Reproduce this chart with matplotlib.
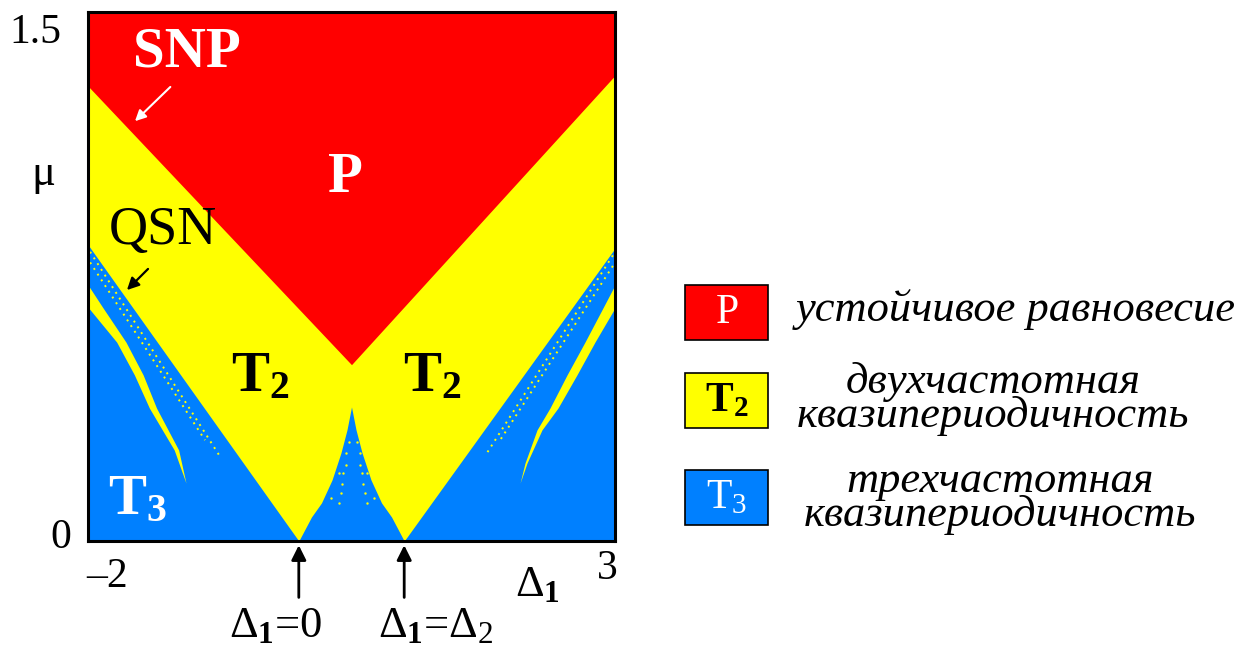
import numpy as np
import matplotlib
matplotlib.use('Agg')
from matplotlib import pyplot as plt
from matplotlib.patches import Rectangle

plt.rcParams['font.family'] = ['Liberation Serif', 'DejaVu Serif']
plt.rcParams['mathtext.fontset'] = 'custom'
plt.rcParams['mathtext.rm'] = 'Liberation Serif'
plt.rcParams['mathtext.it'] = 'Liberation Serif:italic'
plt.rcParams['mathtext.bf'] = 'Liberation Serif:bold'

RED, YELLOW, BLUE = '#FF0000', '#FFFF00', '#0080FF'

delta_lim = [-2, 3]
mu_lim = [0, 1.5]
delta2 = 1.0

# SNP line: P (stable equilibrium) lies above it
snp_delta = [-2.0, 0.5, 3.0]
snp_mu = [1.29, 0.50, 1.32]

# QSN lines + central T3 tongue: lower border of the T2 region
qsn_delta = [-2.0, 0.0, 0.12, 0.215, 0.315, 0.40, 0.457, 0.5,
             0.543, 0.60, 0.685, 0.785, 0.88, 1.0, 3.0]
qsn_mu = [0.84, 0.0, 0.068, 0.108, 0.173, 0.25, 0.315, 0.38,
          0.315, 0.25, 0.173, 0.108, 0.068, 0.0, 0.83]

# thin T2 tongues inside the T3 area
left_tongue_mu = [0.726, 0.663, 0.564, 0.471, 0.377, 0.258, 0.164]
left_tongue_lo = [-2.17, -2.0, -1.728, -1.56, -1.418, -1.182, -1.07]
left_tongue_hi = [-2.0, -1.862, -1.64, -1.477, -1.35, -1.14, -1.07]

right_tongue_mu = [0.726, 0.661, 0.564, 0.471, 0.377, 0.315, 0.221, 0.164]
right_tongue_lo = [3.0, 2.886, 2.715, 2.545, 2.383, 2.26, 2.146, 2.099]
right_tongue_hi = [3.17, 3.0, 2.81, 2.639, 2.459, 2.307, 2.165, 2.099]

# chains of T2 points along the QSN lines
dot_lines = [
    ([-1.98, -0.757], [0.82, 0.244]),
    ([-1.98, -0.89], [0.79, 0.286]),
    ([2.98, 1.786], [0.81, 0.25]),
    ([2.98, 1.91], [0.78, 0.286]),
]

# isolated T2 points inside the central tongue
spike_dot_delta = [0.48, 0.555, 0.445, 0.58, 0.445, 0.58, 0.385, 0.42, 0.60,
                   0.645, 0.41, 0.61, 0.40, 0.63, 0.31, 0.715, 0.38, 0.645]
spike_dot_mu = [0.282, 0.282, 0.249, 0.249, 0.215, 0.215, 0.192, 0.192, 0.192,
                0.192, 0.162, 0.162, 0.137, 0.137, 0.121, 0.121, 0.107, 0.107]

W, H = 1246, 655
fig = plt.figure(figsize=(W / 100, H / 100), dpi=100)
ax = fig.add_axes([88 / W, 114 / H, 527 / W, 529 / H])
ax.set_facecolor(BLUE)

ax.fill_between(qsn_delta, qsn_mu, mu_lim[1], color=YELLOW, lw=0)
ax.fill_between(snp_delta, snp_mu, mu_lim[1], color=RED, lw=0)
ax.fill_betweenx(left_tongue_mu, left_tongue_lo, left_tongue_hi, color=YELLOW, lw=0)
ax.fill_betweenx(right_tongue_mu, right_tongue_lo, right_tongue_hi, color=YELLOW, lw=0)
for dx, dm in dot_lines:
    ax.plot(dx, dm, color=YELLOW, lw=1.4, ls=(0, (1, 2.5)))
ax.scatter(spike_dot_delta, spike_dot_mu, s=3, color=YELLOW, lw=0)

ax.set_xlim(delta_lim)
ax.set_ylim(mu_lim)
ax.set_xticks([])
ax.set_yticks([])
for sp in ax.spines.values():
    sp.set_linewidth(2.2)

# region labels
ax.text(-1.06, 1.386, 'SNP', color='white', fontsize=41, fontweight='bold',
        ha='center', va='center')
ax.annotate('', xy=(-1.573, 1.185), xytext=(-1.20, 1.293),
            arrowprops=dict(arrowstyle='-|>', color='white', lw=1.5, mutation_scale=16))
ax.text(0.44, 1.03, 'P', color='white', fontsize=41, fontweight='bold',
        ha='center', va='center')
ax.text(-1.29, 0.88, 'QSN', color='black', fontsize=39, ha='center', va='center')
ax.annotate('', xy=(-1.649, 0.706), xytext=(-1.412, 0.777),
            arrowprops=dict(arrowstyle='-|>', color='black', lw=1.6, mutation_scale=18))
ax.text(-0.37, 0.465, r'$\mathbf{T}_\mathbf{2}$', fontsize=41, ha='center', va='center')
ax.text(1.27, 0.465, r'$\mathbf{T}_\mathbf{2}$', fontsize=41, ha='center', va='center')
ax.text(-1.53, 0.115, r'$\mathbf{T}_\mathbf{3}$', color='white', fontsize=41,
        ha='center', va='center')

# axis labels
ax.text(-2.5, 1.44, '1.5', fontsize=30, ha='center', va='center', clip_on=False)
ax.text(-2.26, 0.01, '0', fontsize=30, ha='center', va='center', clip_on=False)
ax.text(-1.82, -0.1, '\u20132', fontsize=30, ha='center', va='center', clip_on=False)
ax.text(2.93, -0.08, '3', fontsize=30, ha='center', va='center', clip_on=False)
ax.text(-2.42, 1.04, '\u03bc', fontsize=32, ha='center', va='center', clip_on=False)
ax.text(2.26, -0.125, r'$\Delta_\mathbf{1}$', fontsize=32, ha='center', va='center',
        clip_on=False)

# markers for delta1 = 0 and delta1 = delta2
for x0, dx, lab in [(0.0, -0.216, r'$\Delta_\mathbf{1}$=0'),
                    (delta2, 0.30, r'$\Delta_\mathbf{1}$=$\Delta_2$')]:
    ax.annotate('', xy=(x0, -0.012), xytext=(x0, -0.16), annotation_clip=False,
                arrowprops=dict(arrowstyle='-|>', color='black', lw=2,
                                mutation_scale=22, shrinkA=0, shrinkB=0))
    ax.text(x0 + dx, -0.24, lab, fontsize=32, ha='center', va='center', clip_on=False)

# legend
ov = fig.add_axes([0, 0, 1, 1], zorder=5)
ov.set_xlim(0, W)
ov.set_ylim(H, 0)
ov.axis('off')

legend_colors = [RED, YELLOW, BLUE]
legend_tops = [285, 373, 470]
legend_marks = [(r'$\mathrm{P}$', 'white'), (r'$\mathbf{T}_\mathbf{2}$', 'black'),
                (r'$\mathrm{T}_3$', 'white')]
legend_texts = ['устойчивое равновесие',
                'двухчастотная\nквазипериодичность',
                'трехчастотная\nквазипериодичность']
legend_text_pos = [(1016, 310), (993, 399), (1000, 498)]

for col, top, (mark, mc), txt, (cx, cy) in zip(legend_colors, legend_tops, legend_marks,
                                                legend_texts, legend_text_pos):
    ov.add_patch(Rectangle((685, top), 83, 55, facecolor=col, edgecolor='black', lw=1.2))
    ov.text(726.5, top + 28, mark, color=mc, fontsize=30, ha='center', va='center')
    ov.text(cx, cy, txt, fontsize=32, fontstyle='italic', ha='center', va='center',
            linespacing=0.78)

fig.savefig('out.png', dpi=100, facecolor='white')
